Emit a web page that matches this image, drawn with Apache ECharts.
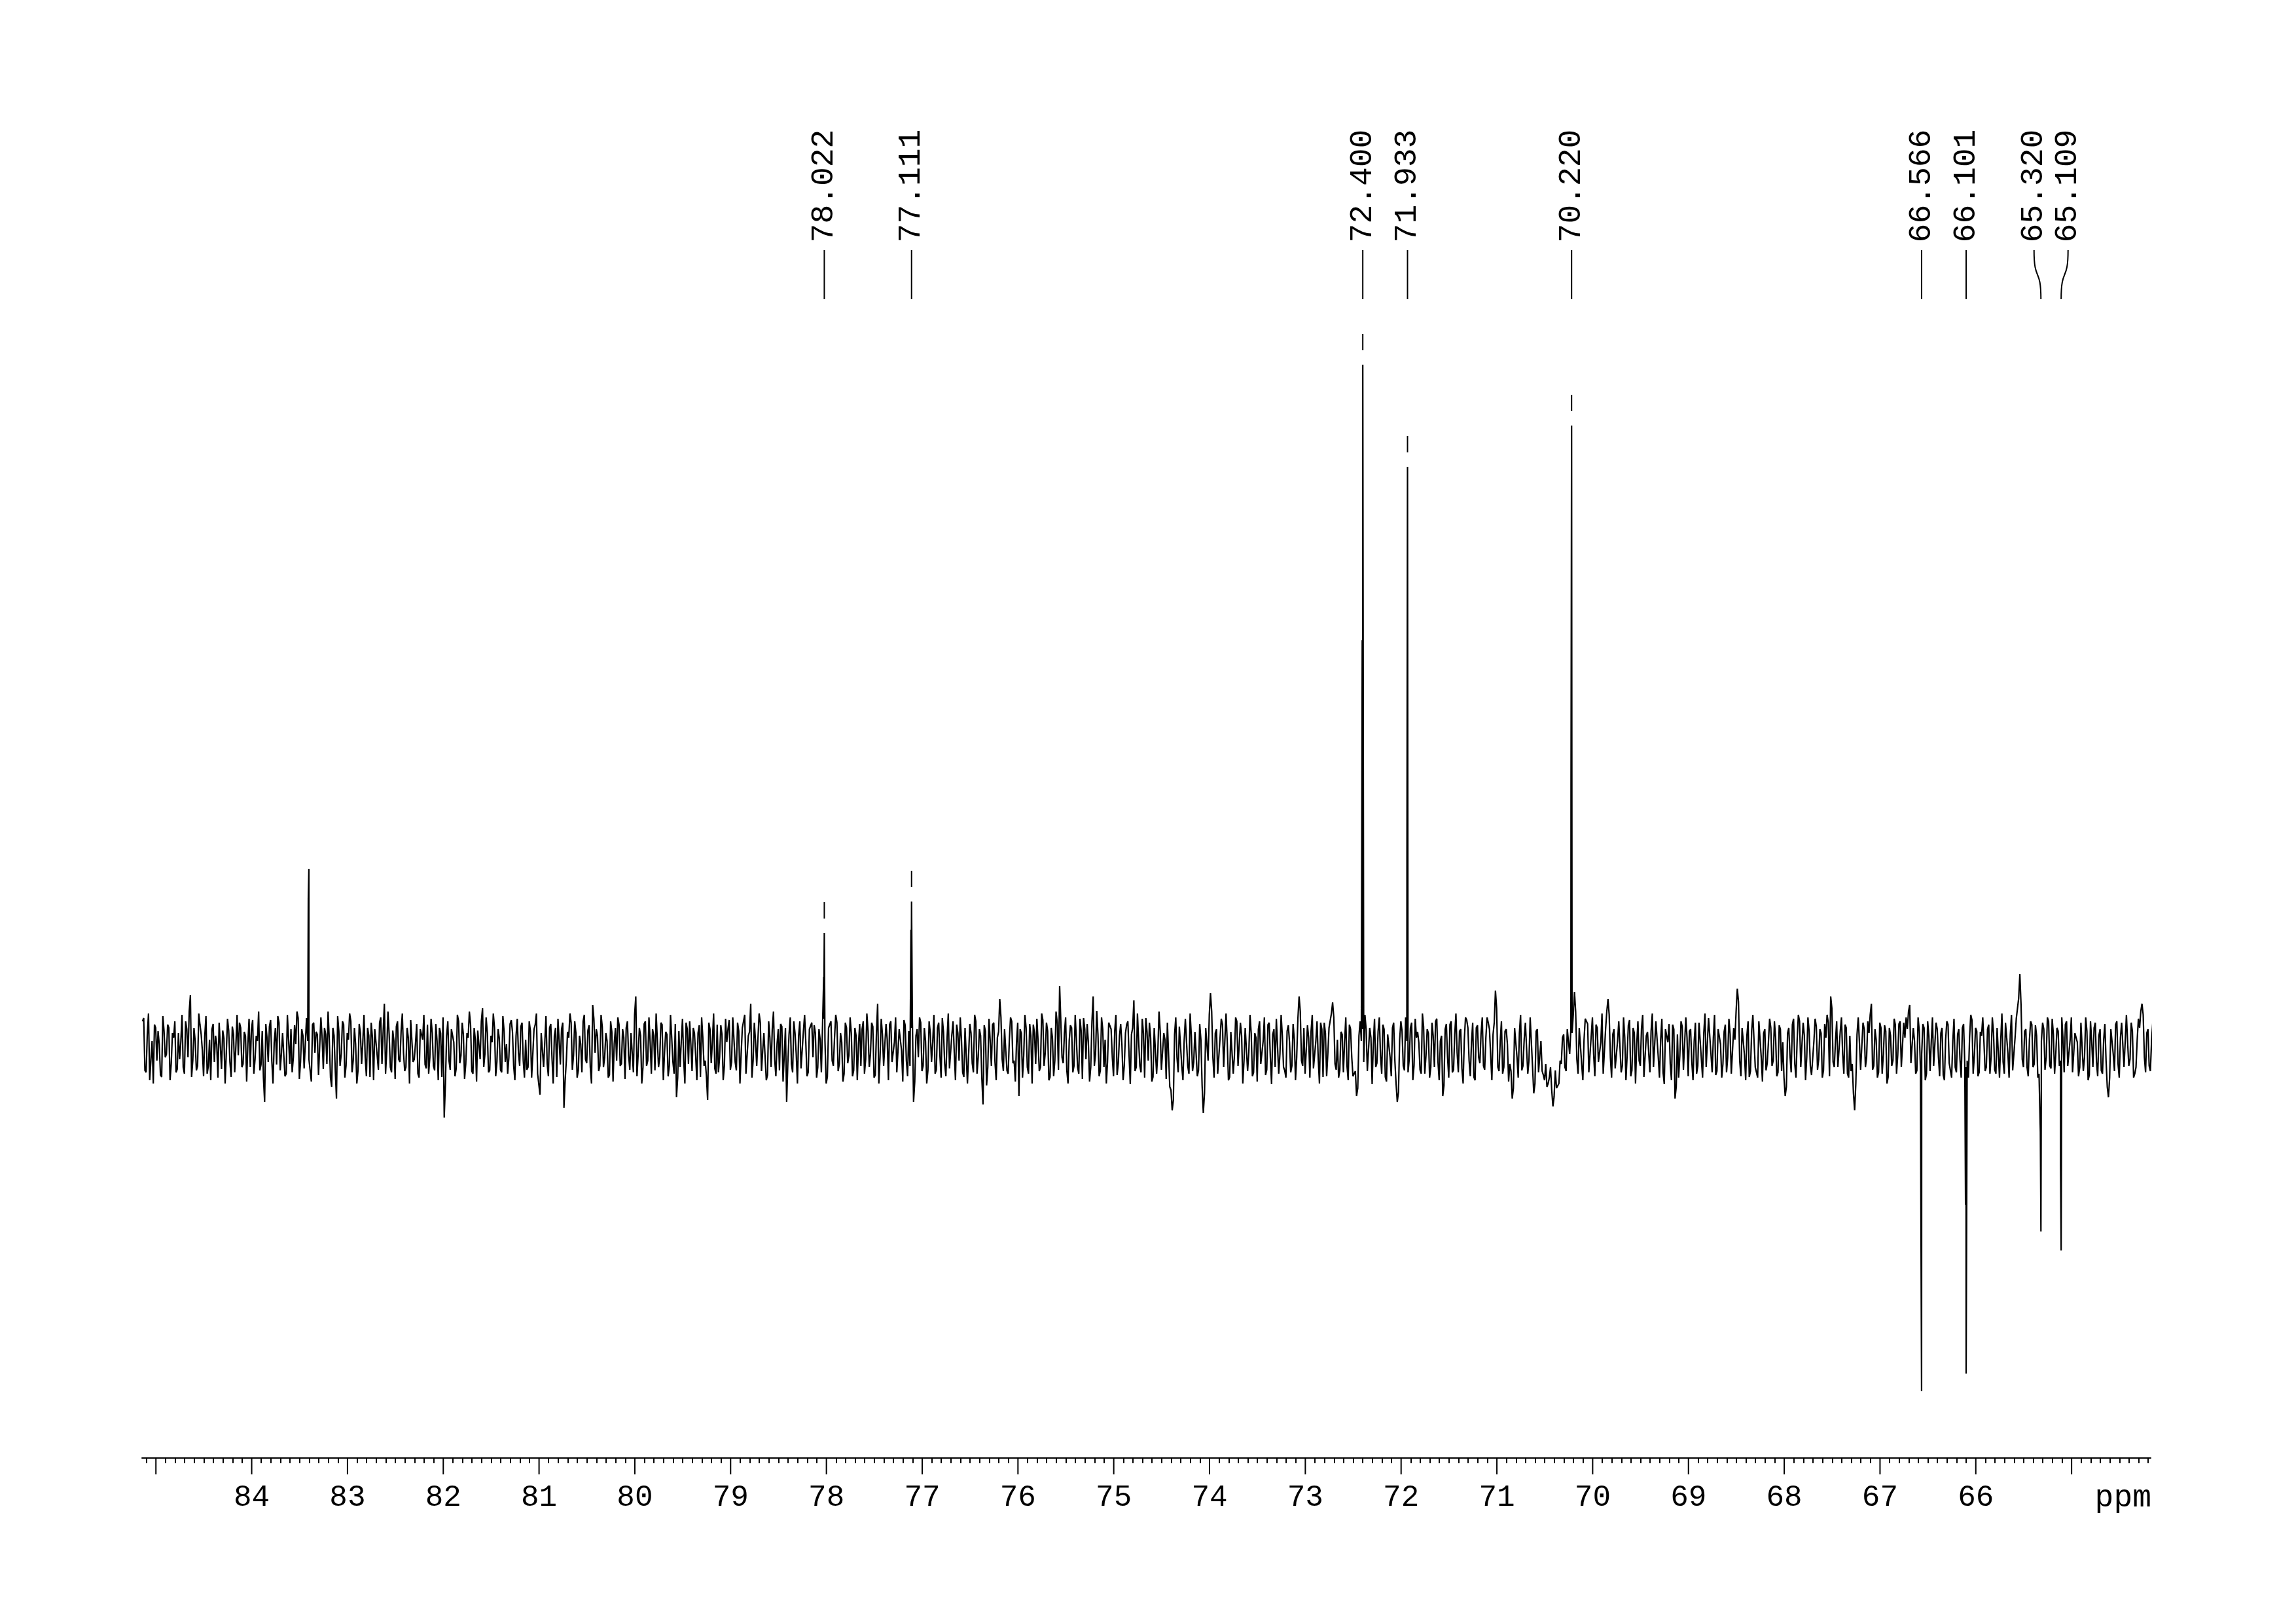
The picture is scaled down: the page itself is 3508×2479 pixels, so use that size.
<!DOCTYPE html>
<html><head><meta charset="utf-8">
<script src="https://cdn.jsdelivr.net/npm/echarts@6/dist/echarts.min.js"></script>
<style>html,body{margin:0;padding:0;background:#fff}#c{width:3508px;height:2479px}</style>
</head><body><div id="c"></div>
<script>
// ---- axis (ppm) ----
const axisMin = 64.174, axisMax = 85.145;
const majorTicks = [85,84,83,82,81,80,79,78,77,76,75,74,73,72,71,70,69,68,67,66,65];
const tickLabels = [84,83,82,81,80,79,78,77,76,75,74,73,72,71,70,69,68,67,66];
const axisUnit = 'ppm';

// ---- baseline noise (intensity, arbitrary units) ----
// noiseA sampled every 0.025 ppm from 85.14 ppm; noiseB sampled in between (from 85.1275 ppm)
const noiseStart = 85.14, noiseStep = 0.025;
const noiseA = [
 40,-35,20,-50,10,35,-20,5,-45,25, -10,30,-25,15,-38,22,8,-30,40,-15, 80,-20,10,-28,35,-5,18,-40,12,28, -22,5,38,-33,14,-8,26,-45,20,3,
 -12,30,-25,18,6,-30,42,-18,10,-35, 25,-83,15,32,-20,8,-26,38,-10,22, -40,12,28,-15,5,45,-22,18,-30,10, -18,35,-8,20,-42,15,30,-25,12,-60,
 18,-78,25,-10,35,-28,12,40,-20,5, -35,22,8,-15,30,-45,16,28,-12,38, -25,67,-5,20,-38,10,32,-18,25,-8, -30,15,42,-22,6,-40,28,12,-26,35,
 -15,22,-35,10,30,-45,-107,18,-20,28, 8,-32,40,-12,20,-25,15,35,-40,12, 26,-18,60,-10,22,-35,8,30,-22,14, -38,25,5,-15,42,-28,18,-8,32,-20,
 12,-30,25,-10,35,-40,-72,20,8,-25, 30,-15,18,-45,10,28,-92,-20,15,38, -12,22,-35,5,40,-18,26,-30,65,-8, 18,-28,32,-15,10,-42,24,6,-20,35,
 -25,15,30,-12,22,-38,78,-10,18,-30, 40,-20,8,28,-35,12,-15,35,-8,20, -28,15,-40,-76,25,10,-18,38,-25,5, 30,-12,22,-45,15,-20,-80,28,10,-32,
 35,-15,20,-28,8,42,-22,12,-35,25, -10,30,-40,18,67,-20,10,-30,38,-5, 22,-42,15,28,-18,6,-35,32,-12,-83, 20,-25,40,-10,18,-32,25,8,-38,30,
 -15,22,-30,12,35,10,-45,28,-20,15, 38,-25,8,-40,30,-12,22,-35,18,5, -28,40,-18,25,-10,32,-42,67,-15,20, -30,12,35,-22,8,-38,28,-5,42,-20,
 25,30,-83,18,-15,38,-28,10,-35,22, 8,-40,30,-12,45,-25,15,-32,20,-8, 35,-20,12,-45,28,-10,22,-38,40,-15, 18,-87,25,-30,10,35,-22,15,74,-18,
 28,-35,12,40,-20,8,-74,22,-12,30, -40,18,35,-25,10,-30,42,-8,25,-45, 15,-20,38,94,-15,22,-35,10,30,-28, 12,-40,25,45,-18,8,-30,78,-10,20,
 -35,28,12,-22,40,-15,25,-42,18,5, -28,35,-12,20,72,-30,10,-38,22,45, -20,15,-45,30,-8,25,-35,12,38,-60, -96,20,-15,32,-28,10,42,-40,18,-22,
 25,-35,12,-100,30,-20,83,-15,22,-40, 15,35,-28,8,-45,25,-12,40,-30,18, -20,32,-8,22,-38,15,28,-25,10,-42, 35,-15,20,-30,45,-10,18,-35,25,8,
 -28,12,-15,78,-20,30,-40,15,25,-32, 10,-18,38,-45,22,-10,30,69,-25,12, -35,20,8,-28,35,-15,-40,-74,18,10, -22,28,-38,15,5,-30,25,-12,35,-45,
 20,-15,30,-20,-83,12,25,-35,10,-18, 38,-28,15,8,-40,32,-12,22,-30,18, 40,-22,10,-74,28,-15,35,-38,20,-8, 25,-32,12,42,-20,8,-45,30,-15,22,
 -28,15,38,-12,20,87,-30,10,-40,25, 5,-25,-78,30,-15,22,-35,12,40,-20, 8,-70,25,-38,10,-42,-25,-55,-30,-90, -35,-60,-20,15,-30,28,-10,22,85,-18,
 30,-25,12,45,-38,18,-10,35,-22,8, -40,28,74,-15,20,-32,10,38,-28,15, -12,42,-35,22,5,-20,30,-45,18,-8, 25,-30,40,-15,12,-38,28,8,-25,35,
 -78,20,-12,32,-35,15,25,-22,10,-40, 38,-18,22,-30,45,-10,15,-42,28,5, -25,35,-15,20,-38,12,90,-20,30,-12, 18,-45,25,10,-28,40,-15,22,-35,8,
 30,-20,15,-38,28,8,-74,22,-12,35, -25,12,40,-30,18,-15,25,-42,10,32, -18,22,-35,15,38,78,-22,10,-30,25, -10,35,-40,18,-25,-96,20,8,-32,28,
 -15,22,67,-28,12,-38,30,-10,25,-45, 18,-20,35,-12,40,-30,15,28,65,-22, 10,-35,25,-10,30,-40,18,8,-28,38, -15,22,-42,12,35,-25,10,-30,20,-18,
 30,-25,-20,15,42,-12,25,-38,18,8, -30,35,-15,22,-40,28,10,-22,38,-8, 20,-35,15,45,112,-18,25,-30,12,35, -25,18,-40,10,28,-15,40,-32,20,-10,
 25,-20,15,35,-28,12,-38,22,8,-30, 38,-15,25,-42,10,30,-22,18,-35,12, -20,-76,28,-10,35,-25,15,40,-30,8, -18,25,-40,12,30,67,-15,22,-28,10
];
const noiseB = [
 45,-38,52,-20,-55,30,25,-42,48,-15, 35,-50,22,40,-33,-18,50,-40,28,55, -45,30,-35,52,20,-44,48,-28,-50,36, 18,-46,40,26,-55,44,-22,32,-38,50,
 38,-30,24,-52,44,28,-40,18,55,-26, -46,36,-22,42,-55,30,48,-35,22,-44, 50,-25,-38,34,55,-48,28,-32,45,-18, -52,38,24,-42,46,-33,20,55,-46,30,
 -35,48,-28,40,-46,22,52,-38,30,-55, 36,-25,50,-44,18,38,-50,28,-34,46, 24,-40,55,-30,26,-48,40,-22,52,-36, 30,-55,44,-18,36,-46,28,50,-32,-40,
 44,-28,36,-50,22,46,-55,40,-34,28, -44,50,-24,38,-48,22,55,-36,30,-52, 26,40,-30,46,-38,18,52,-44,28,-34, 48,-22,-40,36,24,-50,44,-28,38,-46,
 -34,40,-46,28,52,-38,22,-30,48,-44, 36,-55,30,44,-26,38,-50,24,52,-34, 40,-46,18,-38,50,-24,34,-55,44,28, -36,50,-30,22,-46,40,-52,30,46,-28,
 28,-48,40,-34,22,50,-44,30,-55,36, -28,46,-40,18,52,-30,38,-50,24,-44, 50,-22,36,-46,-30,44,-55,28,40,-36, 22,-50,34,46,-28,-44,38,-24,52,-40,
 -38,34,-50,44,28,-34,46,-22,38,-55, 30,50,-40,24,-46,38,-28,52,-36,22, -50,40,-30,55,-44,28,36,-52,30,-24, 46,-38,22,-55,40,-30,50,-44,28,38,
 34,-46,28,-38,44,-55,30,40,-28,50, -36,22,-52,38,-24,46,-44,30,-50,36, 28,-40,52,-30,38,-46,22,-55,44,-28, 36,-50,40,-22,46,-38,28,-52,34,-44,
 -28,44,-52,28,46,-36,30,-55,40,-22, 50,-34,38,-46,24,-44,52,-30,40,-50, 22,46,-38,30,-55,36,-24,50,-40,28, -46,34,-58,44,-28,38,-50,24,46,-36,
 30,-40,46,-24,-52,38,28,-46,50,-30, 36,-55,22,44,-36,52,-28,38,-50,30, -44,55,-34,40,-24,46,-55,34,-38,50, -30,44,-48,28,36,-52,40,-28,56,-44,
 46,-30,-55,38,28,-44,50,-24,36,-50, 22,40,-56,30,-36,52,-28,44,-46,24, 38,-52,30,-40,55,-34,22,-48,40,-65, -80,46,-38,30,-50,44,-28,52,-36,24,
 -44,36,-58,-70,30,50,55,-46,28,-38, 44,-30,52,-50,24,-40,46,-28,38,-55, 30,-36,50,-44,22,-52,40,-24,46,-34, 38,-56,28,44,-40,50,-30,-46,34,-38,
 36,-50,44,55,-28,-40,34,-46,50,-30, 40,-55,28,38,-44,30,52,46,-34,-46, 24,-38,46,-50,28,-44,-36,-62,40,28, 50,-36,30,-56,44,-24,46,-40,28,-52,
 22,-44,38,-55,-68,40,-28,46,-38,30, -50,44,24,-34,52,-40,28,-46,38,-30, 44,-50,18,-58,36,-46,40,-34,52,-38, 28,-55,46,30,-44,38,-50,34,-24,46,
 -34,46,28,-50,38,60,-36,40,-30,28, -52,-36,-62,30,-46,50,-28,38,-40,46, -30,-55,28,-40,-36,-50,-60,-46,-65,-75, -62,-55,-25,20,-36,30,28,50,55,-40,
 28,-50,44,36,-38,46,-44,30,-24,52, -40,55,50,-46,28,-34,40,-38,46,-50, 34,-44,30,-55,40,-28,50,-46,24,-38, 52,-30,38,-46,44,-56,30,36,-50,28,
 -60,-46,40,-34,46,-44,28,-50,38,-28, 36,-46,52,-30,44,-38,50,-36,28,-46, 24,-38,44,-40,30,55,70,-44,28,-50, 40,-36,50,-30,-46,38,-52,28,-24,44,
 -28,40,-44,34,-36,-46,-60,30,-38,44, -46,50,-30,38,-50,46,-28,-40,44,-34, 28,-46,36,50,-44,60,-30,40,-28,46, -40,30,-46,-36,-70,-55,46,-34,38,-30,
 40,50,-34,28,-46,38,-40,34,-55,30, -28,44,-40,36,-30,38,46,55,-24,30, -40,46,-34,36,-50,40,-36,46,-30,28, -44,30,-50,40,-24,-46,44,-38,28,-46,
 36,-30,-46,50,-40,30,-44,24,46,-36, 28,-40,46,-34,30,-46,52,-40,38,-46, 50,-36,44,75,65,-30,28,-44,40,-30, 34,-46,-40,38,-34,46,-28,44,-40,30,
 -28,46,-38,40,-30,46,-38,24,-44,38, -36,46,-50,40,-30,38,-44,28,-40,36, -60,-46,30,-36,40,-46,38,-30,50,-28, 38,-46,-30,44,55,50,-38,28,-36,38
];

// ---- peaks ----
const peakPpm      = [83.403, 78.022, 77.111, 72.400, 71.933, 70.220, 66.566, 66.101, 65.320, 65.109];
const peakHeight   = [273, 175, 223, 1043, 887, 950, -525, -498, -281, -310];
const peakShoulder = [227, 108, 180, 622, 300, 399, -290, -240, -129, -180];
const peakLabels   = [null, '78.022', '77.111', '72.400', '71.933', '70.220', '66.566', '66.101', '65.320', '65.109'];

// build spectrum trace
const spec = [];
noiseA.forEach((v, i) => spec.push([+(noiseStart - i * noiseStep).toFixed(4), v]));
noiseB.forEach((v, i) => spec.push([+(noiseStart - noiseStep / 2 - i * noiseStep).toFixed(4), v]));
peakPpm.forEach((p, i) => {
  spec.push([p, peakHeight[i]]);
  spec.push([+(p + 0.006).toFixed(4), peakShoulder[i]]);
});
spec.sort((a, b) => b[0] - a[0]);

const FONT = 'Liberation Mono';
const chart = echarts.init(document.getElementById('c'), null, {renderer: 'canvas'});

function spread(xs, gap) {
  const idx = xs.map((x, i) => i).sort((a, b) => xs[a] - xs[b]);
  const out = xs.slice();
  let g = [idx[0]];
  const flush = () => {
    if (g.length > 1) {
      const c = g.reduce((s, k) => s + xs[k], 0) / g.length;
      g.forEach((k, j) => { out[k] = c + (j - (g.length - 1) / 2) * gap; });
    }
  };
  for (let j = 1; j < idx.length; j++) {
    if (xs[idx[j]] - xs[idx[j - 1]] < gap) g.push(idx[j]); else { flush(); g = [idx[j]]; }
  }
  flush();
  return out;
}

chart.setOption({
  animation: false,
  backgroundColor: '#fff',
  grid: {left: 217, right: 222, top: 227, bottom: 252, containLabel: false},
  xAxis: {
    type: 'value', min: axisMin, max: axisMax, inverse: true, splitNumber: 20,
    axisLine: {show: true, onZero: false, lineStyle: {color: '#000', width: 2}},
    axisTick: {show: false},
    minorTick: {show: true, splitNumber: 10, length: 8, lineStyle: {color: '#000', width: 2}},
    splitLine: {show: false}, minorSplitLine: {show: false},
    axisLabel: {
      show: true, margin: 38, color: '#000', fontSize: 46, lineHeight: 46, fontFamily: FONT,
      formatter: v => tickLabels.indexOf(Math.round(v * 1000) / 1000) >= 0 ? String(Math.round(v)) : ''
    }
  },
  yAxis: {type: 'value', min: -627, max: 1373, show: false, splitLine: {show: false}},
  graphic: [{
    type: 'text', x: 3287, y: 2288,
    style: {text: axisUnit, fontSize: 48, fontFamily: FONT, fill: '#000',
            align: 'right', verticalAlign: 'middle', textAlign: 'right', textVerticalAlign: 'middle'}
  }],
  series: [
    {
      type: 'line', data: spec, showSymbol: false, symbol: 'none', silent: true,
      lineStyle: {color: '#000', width: 2.2}, z: 3
    },
    {
      type: 'custom', silent: true, clip: false, z: 5,
      data: majorTicks.map(v => [v, 0]),
      renderItem: (params, api) => {
        const x = api.coord([api.value(0), 0])[0];
        const y0 = params.coordSys.y + params.coordSys.height;
        return {type: 'line', shape: {x1: x, y1: y0, x2: x, y2: y0 + 25},
                style: {stroke: '#000', lineWidth: 2}};
      }
    },
    {
      type: 'custom', silent: true, clip: false, z: 6,
      data: peakPpm.map((p, i) => [p, peakHeight[i]]),
      renderItem: (params, api) => {
        const i = params.dataIndex;
        if (!peakLabels[i]) return {type: 'group', children: []};
        const lab = [], xs = [];
        peakPpm.forEach((p, k) => { if (peakLabels[k]) { lab.push(k); xs.push(api.coord([p, 0])[0]); } });
        const sx = spread(xs, 52);
        const j = lab.indexOf(i);
        const px = xs[j], lx = sx[j];
        const top = api.coord([peakPpm[i], peakHeight[i]])[1];
        const children = [
          {type: 'text', x: lx, y: 284, rotation: Math.PI / 2,
           style: {text: peakLabels[i], fontSize: 48, fontFamily: FONT, fill: '#000',
                   align: 'center', verticalAlign: 'middle', textAlign: 'center', textVerticalAlign: 'middle'}},
          {type: 'bezierCurve',
           shape: {x1: lx, y1: 382, cpx1: lx, cpy1: 432, cpx2: px, cpy2: 407, x2: px, y2: 457},
           style: {stroke: '#000', lineWidth: 2, fill: null}}
        ];
        if (peakHeight[i] > 0) {
          children.push({type: 'line', shape: {x1: px, y1: top - 47, x2: px, y2: top - 22},
                         style: {stroke: '#000', lineWidth: 2}});
        }
        return {type: 'group', children};
      }
    }
  ]
});
</script>
</body></html>
